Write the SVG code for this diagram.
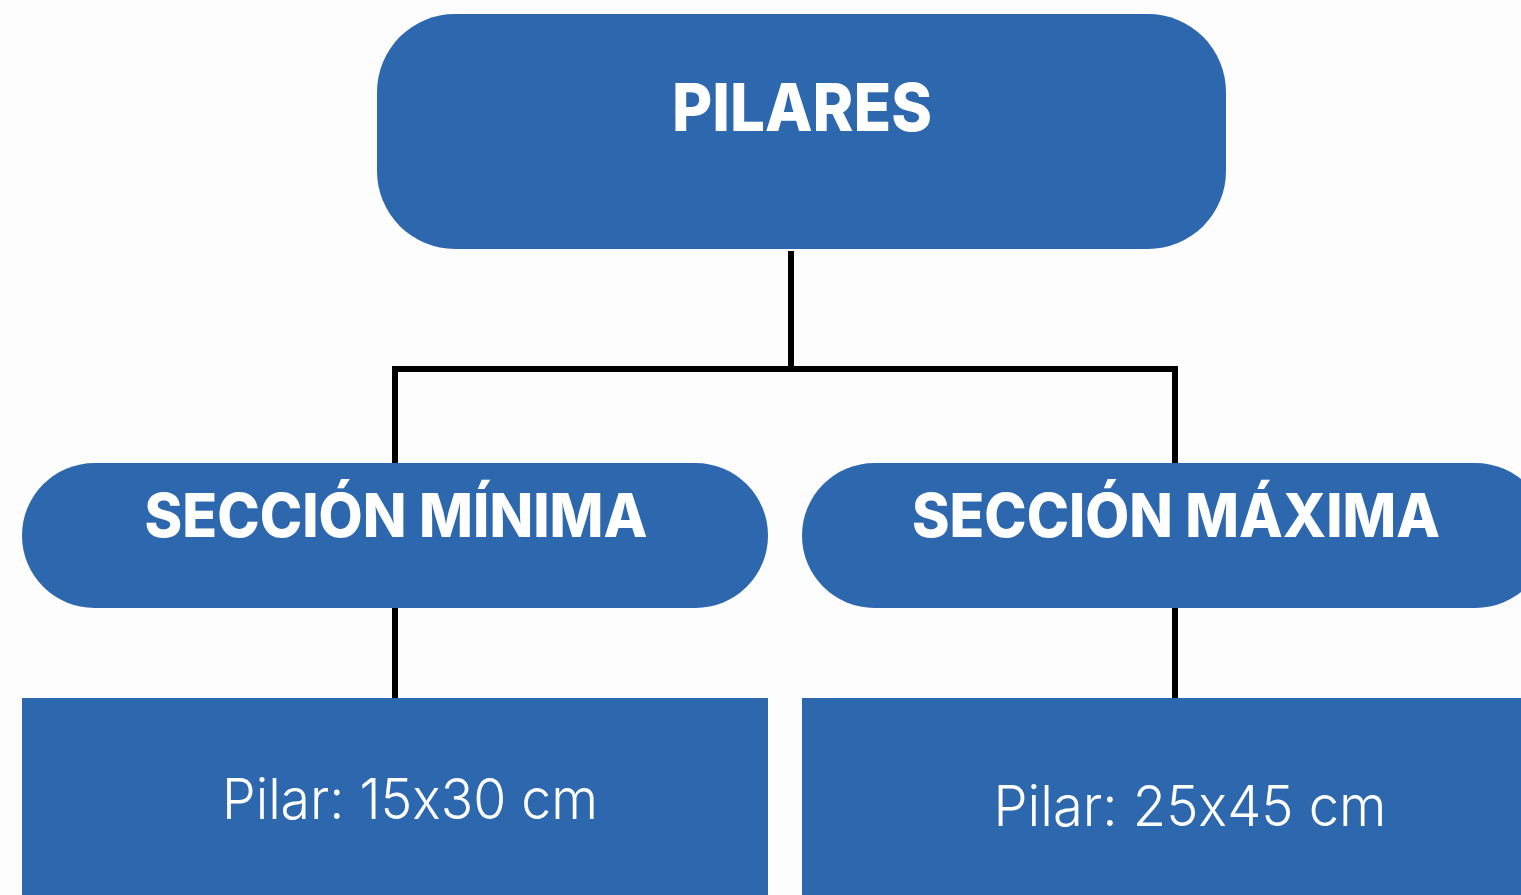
<svg xmlns="http://www.w3.org/2000/svg" width="1521" height="895" viewBox="0 0 1521 895">
<style>
.box{fill:#2d67ae}
.t{fill:#ffffff;font-family:Inter,"Open Sans","Liberation Sans",sans-serif;font-feature-settings:"calt" 0}
.h{font-weight:800}
.n{font-weight:300}
.c{stroke:#000;stroke-width:6;fill:none}
</style>
<rect width="1521" height="895" fill="#fdfdfd"/>
<g id="connectors">
<line class="c" x1="791" y1="251" x2="791" y2="369"/>
<polyline class="c" points="395,463 395,369 1175,369 1175,463"/>
<line class="c" x1="395" y1="606" x2="395" y2="699"/>
<line class="c" x1="1175" y1="606" x2="1175" y2="699"/>
</g>
<g id="pilares">
<rect class="box" x="377" y="14" width="849" height="235" rx="78" ry="78"/>
<text class="t h" x="802" y="131" font-size="66" text-anchor="middle" textLength="260" lengthAdjust="spacingAndGlyphs">PILARES</text>
</g>
<g id="seccion-minima">
<rect class="box" x="22" y="463" width="746" height="145" rx="72.5" ry="72.5"/>
<text class="t h" x="396" y="537" font-size="60" text-anchor="middle" textLength="503" lengthAdjust="spacingAndGlyphs">SECCIÓN MÍNIMA</text>
</g>
<g id="seccion-maxima">
<rect class="box" x="802" y="463" width="746" height="145" rx="72.5" ry="72.5"/>
<text class="t h" x="1176" y="537" font-size="60" text-anchor="middle" textLength="528" lengthAdjust="spacingAndGlyphs">SECCIÓN MÁXIMA</text>
</g>
<g id="pilar-min">
<rect class="box" x="22" y="698" width="746" height="210"/>
<text class="t n" x="410" y="819" font-size="56" text-anchor="middle" textLength="376" lengthAdjust="spacingAndGlyphs">Pilar: 15x30 cm</text>
</g>
<g id="pilar-max">
<rect class="box" x="802" y="698" width="746" height="210"/>
<text class="t n" x="1190" y="826" font-size="56" text-anchor="middle" textLength="393" lengthAdjust="spacingAndGlyphs">Pilar: 25x45 cm</text>
</g>
</svg>
